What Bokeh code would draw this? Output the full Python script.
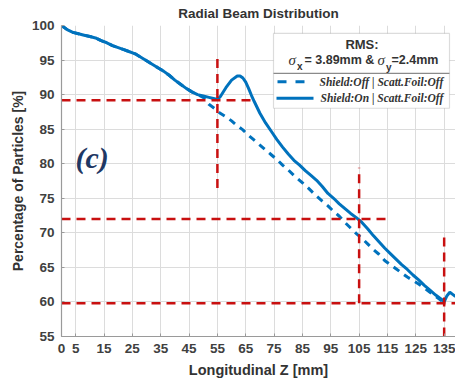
from bokeh.plotting import figure
from bokeh.models import Range1d, FixedTicker, Label, BoxAnnotation
from bokeh.embed import file_html
from bokeh.resources import INLINE

# Longitudinal position [mm] and transmitted fraction [%]
z_on = [0, 2, 4, 6, 8, 10, 12, 14, 16, 18, 20, 22, 24, 26, 28, 30, 32, 34, 36, 38,
        40, 42, 44, 46, 48, 50, 52, 54, 55, 56, 58, 60, 62, 63, 64, 65, 66, 67, 68,
        70, 72, 74, 76, 78, 80, 82, 84, 86, 88, 90, 92, 94, 96, 98, 100, 102, 104,
        106, 108, 110, 112, 114, 116, 118, 120, 122, 124, 126, 128, 130, 132, 134,
        135, 136, 137, 138, 139]
pct_on = [100.0, 99.4, 99.0, 98.8, 98.6, 98.4, 98.2, 97.8, 97.5, 97.1, 96.8, 96.5,
          96.2, 95.9, 95.4, 94.9, 94.4, 93.9, 93.4, 92.8, 92.1, 91.5, 90.9, 90.4,
          90.0, 89.8, 89.6, 89.4, 89.3, 89.7, 91.0, 92.1, 92.7, 92.7, 92.4, 91.8,
          90.9, 89.9, 89.0, 87.3, 85.9, 84.7, 83.5, 82.4, 81.4, 80.5, 79.8, 79.0,
          78.3, 77.6, 76.7, 75.7, 75.0, 74.2, 73.5, 72.8, 72.2, 71.5, 70.6, 69.6,
          68.7, 67.8, 67.0, 66.2, 65.4, 64.7, 63.9, 63.2, 62.4, 61.7, 61.0, 60.4,
          60.0, 60.9, 61.4, 61.1, 60.8]

z_off = [0, 2, 4, 6, 8, 10, 12, 14, 16, 18, 20, 22, 24, 26, 28, 30, 32, 34, 36, 38,
         40, 42, 44, 46, 48, 50, 52, 54, 56, 58, 60, 62, 64, 66, 68, 70, 72, 74, 76,
         78, 80, 82, 84, 86, 88, 90, 92, 94, 96, 98, 100, 102, 104, 106, 108, 110,
         112, 114, 116, 118, 120, 122, 124, 126, 128, 130, 132, 134, 135]
pct_off = [100.0, 99.4, 99.0, 98.8, 98.6, 98.4, 98.2, 97.8, 97.5, 97.1, 96.8, 96.5,
           96.2, 95.9, 95.4, 94.9, 94.4, 93.9, 93.4, 92.8, 92.1, 91.5, 90.9, 90.4,
           90.0, 89.6, 88.6, 88.0, 87.3, 86.8, 86.2, 85.5, 84.9, 84.1, 83.4, 82.7,
           82.0, 81.3, 80.6, 79.8, 79.1, 78.3, 77.6, 76.9, 76.1, 75.3, 74.6, 73.9,
           73.1, 72.4, 71.5, 70.7, 69.9, 69.2, 68.4, 67.6, 66.9, 66.0, 65.4, 64.8,
           64.2, 63.6, 63.1, 62.6, 62.0, 61.4, 60.8, 60.2, 59.9]

x_ticks = [0, 5, 15, 25, 35, 45, 55, 65, 75, 85, 95, 105, 115, 125, 135]
y_ticks = [55, 60, 65, 70, 75, 80, 85, 90, 95, 100]

# Reference read-outs: crossing position and level
marker_z = [55, 105, 135]
marker_pct = [89.2, 72.0, 59.8]
h_guide_end = [67.5, 115.5, 139]
v_guide_lo = [76.5, 59.8, 55]
v_guide_hi = [95.7, 79.4, 69.5]

W, H = 455, 380
LEFT, RIGHT, TOP, BOTTOM = 61, 0, 25, 43
X0, X1, Y0, Y1 = 0, 139, 55, 100
FW, FH = W - LEFT - RIGHT, H - TOP - BOTTOM

BLUE = "#0072BD"
RED = "#C81010"
TXT = "#333333"


def fx(px):
    return X0 + (px - LEFT) * (X1 - X0) / FW


def fy(py):
    return Y1 - (py - TOP) * (Y1 - Y0) / FH


p = figure(width=W, height=H, x_range=Range1d(X0, X1), y_range=Range1d(Y0, Y1),
           output_backend="svg", toolbar_location=None,
           min_border_left=LEFT, min_border_right=RIGHT,
           min_border_top=TOP, min_border_bottom=BOTTOM,
           background_fill_color="white", border_fill_color="white")
p.outline_line_color = None

p.title.text = "Radial Beam Distribution"
p.title.align = "center"
p.title.vertical_align = "middle"
p.title.text_font = "Liberation Sans"
p.title.text_font_size = "13.5px"
p.title.text_font_style = "bold"
p.title.text_color = TXT
p.title.standoff = 7

for ax, ticks, label in ((p.xaxis, x_ticks, "Longitudinal Z [mm]"),
                         (p.yaxis, y_ticks, "Percentage of Particles [%]")):
    ax.ticker = FixedTicker(ticks=ticks)
    ax.axis_label = label
    ax.axis_label_text_font = "Liberation Sans"
    ax.axis_label_text_font_size = "14px"
    ax.axis_label_text_font_style = "bold"
    ax.axis_label_text_color = TXT
    ax.major_label_text_font = "Liberation Sans"
    ax.major_label_text_font_size = "13.5px"
    ax.major_label_text_font_style = "bold"
    ax.major_label_text_color = "#404040"
    ax.axis_line_color = "#9a9a9a"
    ax.axis_line_width = 1.2
    ax.major_tick_in = 3
    ax.major_tick_out = 0
    ax.major_tick_line_color = "#9a9a9a"
    ax.minor_tick_line_color = None
p.xaxis.axis_label_text_font_size = "14.5px"
p.xaxis.major_label_standoff = 7
p.xaxis.axis_label_standoff = 6
p.yaxis.major_label_standoff = 7
p.yaxis.axis_label_standoff = 3

p.xgrid.ticker = FixedTicker(ticks=x_ticks)
p.ygrid.ticker = FixedTicker(ticks=y_ticks)
for g in (p.xgrid, p.ygrid):
    g.grid_line_color = "#dcdcdc"
    g.grid_line_width = 1

# Beam transmission curves
p.line(z_off, pct_off, line_color=BLUE, line_width=3, line_dash="7 6")
p.line(z_on, pct_on, line_color=BLUE, line_width=3)

# Read-out guides
p.segment(x0=marker_z, y0=v_guide_lo, x1=marker_z, y1=v_guide_hi,
          line_color=RED, line_width=2.5, line_dash="9 6")
p.segment(x0=[X0] * len(marker_pct), y0=marker_pct, x1=h_guide_end, y1=marker_pct,
          line_color=RED, line_width=2.5, line_dash="9 6")

# Legend panel
p.add_layout(BoxAnnotation(left=fx(273), right=fx(449), top=fy(33), bottom=fy(108),
                           fill_color="white", fill_alpha=1.0,
                           line_color="#8a8a8a", line_width=1.2))
p.segment(x0=[fx(273)], y0=[fy(73)], x1=[fx(449)], y1=[fy(73)],
          line_color="#8a8a8a", line_width=1.2, level="overlay")


def lab(px, py, text, size, font="Liberation Sans", style="bold", align="left",
        color=TXT):
    p.add_layout(Label(x=fx(px), y=fy(py), text=text, text_font=font,
                       text_font_size=size, text_font_style=style,
                       text_align=align, text_baseline="middle",
                       text_color=color, level="overlay"))


lab(361.5, 44, "RMS:", "13px", align="center")
lab(288, 60, "σ", "15px", font="Liberation Serif", style="italic")
lab(296.5, 66, "x", "10px")
lab(304, 60, "= 3.89mm &", "12.5px")
lab(377, 60, "σ", "15px", font="Liberation Serif", style="italic")
lab(385.5, 67, "y", "10px")
lab(391, 60, "=2.4mm", "12.5px")

p.segment(x0=[fx(277)], y0=[fy(81.5)], x1=[fx(304)], y1=[fy(81.5)],
          line_color=BLUE, line_width=3, line_dash="9 9", level="overlay")
p.segment(x0=[fx(276)], y0=[fy(98)], x1=[fx(313)], y1=[fy(98)],
          line_color=BLUE, line_width=3, level="overlay")
lab(319, 81.5, "Shield:Off  | Scatt.Foil:Off", "11.5px", font="Liberation Serif",
    style="bold italic")
lab(320, 98, "Shield:On  | Scatt.Foil:Off", "11.5px", font="Liberation Serif",
    style="bold italic")

lab(75, 157, "(c)", "30px", font="Liberation Serif", style="bold italic",
    color="#1F3864")

open("out.html", "w").write(file_html(p, INLINE))
